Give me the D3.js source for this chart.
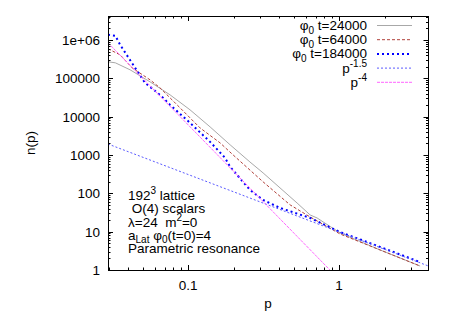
<!DOCTYPE html>
<html>
<head>
<meta charset="utf-8">
<script src="https://cdn.jsdelivr.net/npm/d3@7"></script>
<style>
body { margin: 0; background: #fff; }
text { font-family: "Liberation Sans", Arial, sans-serif; font-size: 13.5px; fill: #000; }
</style>
</head>
<body>
<svg id="chart" width="450" height="315"></svg>
<script>
// spectra
var p24 = [0.0295, 0.033, 0.0413, 0.056, 0.076, 0.103, 0.14, 0.19, 0.257, 0.314, 0.527, 0.643, 0.715, 1.015, 1.87, 3.44];
var n24 = [2.7e5, 2.54e5, 1.67e5, 8.1e4, 3.71e4, 1.51e4, 5.4e3, 1.84e3, 657, 341, 56, 27.3, 22.8, 9.25, 3.33, 1.27];

var p64 = [0.0295, 0.0355, 0.0426, 0.056, 0.0652, 0.0885, 0.12, 0.163, 0.199, 0.314, 0.474, 0.643, 1.015, 1.87, 3.44];
var n64 = [5.89e5, 4.11e5, 1.88e5, 9.14e4, 5.65e4, 1.70e4, 5.1e3, 2.07e3, 1.0e3, 199, 50, 24.2, 8.7, 3.33, 1.27];

var p184 = [0.0295, 0.033, 0.0355, 0.0446, 0.0519, 0.056, 0.0652, 0.076, 0.103, 0.14, 0.176, 0.19, 0.257, 0.314, 0.407, 0.643, 1.015, 1.53, 3.29, 3.44];
var n184 = [1.37e6, 1.29e6, 7.5e5, 1.88e5, 7.6e4, 6.0e4, 3.7e4, 2.03e4, 6.9e3, 2.2e3, 840, 489, 123, 67, 41.6, 22.8, 9.8, 5.4, 1.72, 1.62];

// power-law guide lines, two end points each
var pSlope15 = [0.0295, 3.91];
var nSlope15 = [1937, 1.27];
var pSlope4 = [0.0295, 0.87];
var nSlope4 = [8.45e5, 1];

var xTickVals = [0.1, 1];
var xTickLabels = ["0.1", "1"];
var yTickVals = [1, 10, 100, 1000, 10000, 100000, 1000000];
var yTickLabels = ["1", "10", "100", "1000", "10000", "100000", "1e+06"];

var series = [
    { p: p24, n: n24, color: "#a8a8a8", width: 1, dash: null,
      label: [["φ"], ["0", "sub"], [" t=24000"]] },
    { p: p64, n: n64, color: "#b0403a", width: 1, dash: "3,2",
      label: [["φ"], ["0", "sub"], [" t=64000"]] },
    { p: p184, n: n184, color: "#0000ff", width: 2, dash: "2,3",
      label: [["φ"], ["0", "sub"], [" t=184000"]] },
    { p: pSlope15, n: nSlope15, color: "#5a5aff", width: 1, dash: "2,2",
      label: [["p"], ["-1.5", "sup"]] },
    { p: pSlope4, n: nSlope4, color: "#ff66ff", width: 1, dash: "3,1",
      label: [["p"], ["-4", "sup"]] }
];

var notes = [
    [["192"], ["3", "sup"], [" lattice"]],
    [[" O(4) scalars"]],
    [["λ=24  m"], ["2", "sup"], ["=0"]],
    [["a"], ["Lat", "sub"], [" φ"], ["0", "sub"], ["(t=0)=4"]],
    [["Parametric resonance"]]
];

var plotL = 108, plotR = 428.5, plotT = 16, plotB = 270;

var x = d3.scaleLog().domain([0.0295, 3.91]).range([plotL, plotR]);
var y = d3.scaleLog().domain([1, 4.23e6]).range([plotB, plotT]);

var svg = d3.select("#chart");

function rich(sel, parts) {
    var shift = 0;
    parts.forEach(function(part) {
        var t = sel.append("tspan").text(part[0]);
        var want = 0;
        if (part[1] == "sub") want = 3.5;
        if (part[1] == "sup") want = -6;
        if (part[1]) t.style("font-size", "10px");
        t.attr("dy", want - shift);
        shift = want;
    });
}

svg.append("clipPath").attr("id", "clip")
    .append("rect")
    .attr("x", plotL).attr("y", plotT)
    .attr("width", plotR - plotL).attr("height", plotB - plotT);

var plot = svg.append("g").attr("clip-path", "url(#clip)");

var line = d3.line()
    .x(function(d) { return x(d[0]); })
    .y(function(d) { return y(d[1]); });

series.forEach(function(s) {
    var pts = s.p.map(function(v, i) { return [v, s.n[i]]; });
    plot.append("path")
        .attr("d", line(pts))
        .attr("fill", "none")
        .attr("stroke", s.color)
        .attr("stroke-width", s.width)
        .attr("stroke-dasharray", s.dash);
});

// ticks, mirrored on all four sides, pointing inward
function isMajor(v) {
    return Math.abs(Math.log10(v) - Math.round(Math.log10(v))) < 1e-6;
}

var ticks = svg.append("g").attr("stroke", "#000").attr("stroke-width", 1);

x.ticks().forEach(function(v) {
    var len = isMajor(v) ? 5 : 2.5;
    var px = Math.round(x(v)) + 0.5;
    ticks.append("line").attr("x1", px).attr("x2", px).attr("y1", plotB).attr("y2", plotB - len);
    ticks.append("line").attr("x1", px).attr("x2", px).attr("y1", plotT).attr("y2", plotT + len);
});

y.ticks().forEach(function(v) {
    var len = isMajor(v) ? 5 : 2.5;
    var py = Math.round(y(v)) + 0.5;
    ticks.append("line").attr("y1", py).attr("y2", py).attr("x1", plotL).attr("x2", plotL + len);
    ticks.append("line").attr("y1", py).attr("y2", py).attr("x1", plotR).attr("x2", plotR - len);
});

svg.append("rect")
    .attr("x", plotL + 0.5).attr("y", plotT + 0.5)
    .attr("width", plotR - plotL - 0.5).attr("height", plotB - plotT)
    .attr("fill", "none")
    .attr("stroke", "#000")
    .attr("stroke-width", 1);

xTickVals.forEach(function(v, i) {
    svg.append("text")
        .attr("x", x(v)).attr("y", 290)
        .attr("text-anchor", "middle")
        .text(xTickLabels[i]);
});

yTickVals.forEach(function(v, i) {
    svg.append("text")
        .attr("x", 100).attr("y", y(v) + 5)
        .attr("text-anchor", "end")
        .text(yTickLabels[i]);
});

svg.append("text")
    .attr("x", 268).attr("y", 308)
    .attr("text-anchor", "middle")
    .text("p");

svg.append("text")
    .attr("transform", "translate(35,143) rotate(-90)")
    .attr("text-anchor", "middle")
    .text("n(p)");

// legend
series.forEach(function(s, i) {
    var cy = 25.5 + i * 14.2;
    var t = svg.append("text")
        .attr("x", 367).attr("y", cy + 4.5)
        .attr("text-anchor", "end");
    rich(t, s.label);
    svg.append("line")
        .attr("x1", 377).attr("x2", 412)
        .attr("y1", cy).attr("y2", cy)
        .attr("stroke", s.color)
        .attr("stroke-width", s.width)
        .attr("stroke-dasharray", s.dash);
});

// run description
notes.forEach(function(parts, i) {
    var t = svg.append("text")
        .attr("x", 128).attr("y", 200 + i * 13.3)
        .style("white-space", "pre");
    rich(t, parts);
});
</script>
</body>
</html>
